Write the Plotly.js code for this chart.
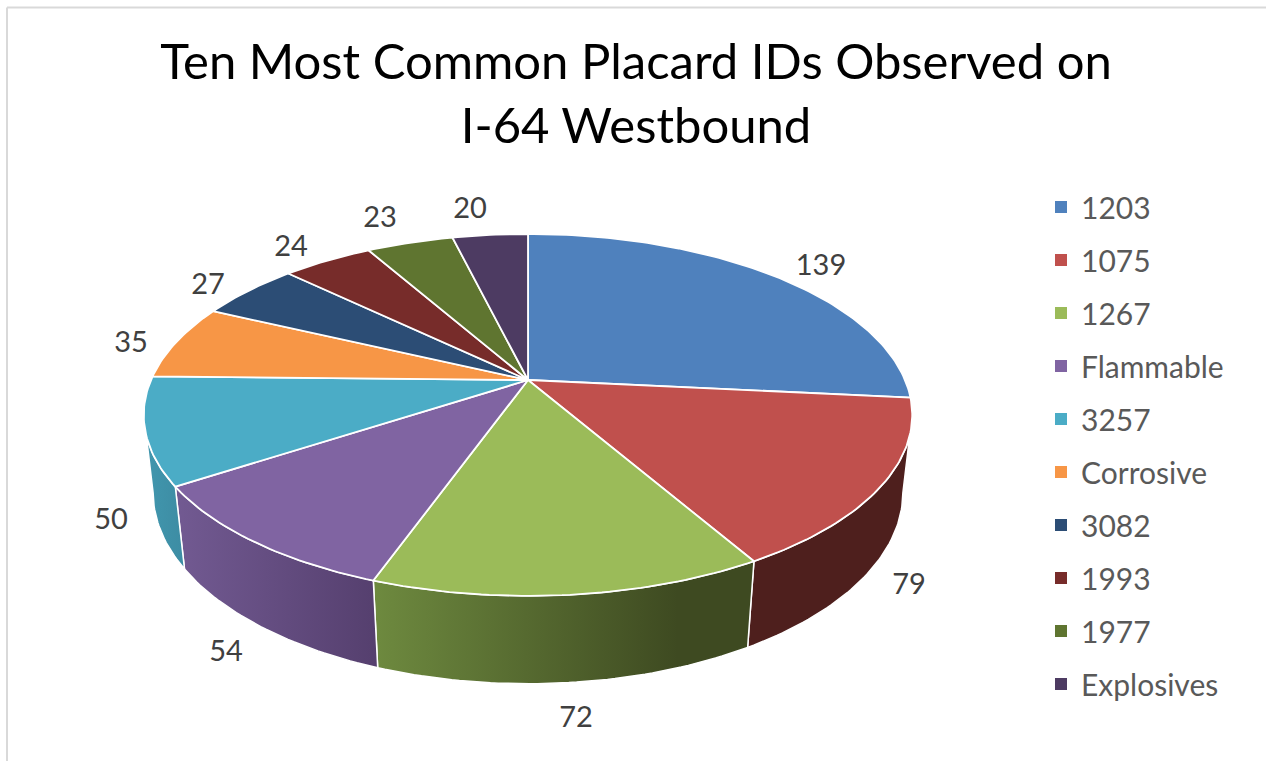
<!DOCTYPE html>
<html>
<head>
<meta charset="utf-8">
<script src="https://cdn.plot.ly/plotly-3.0.1.min.js"></script>
<style>html,body{margin:0;padding:0;background:#fff}#chart{width:1266px;height:761px}</style>
</head>
<body>
<div id="chart"></div>
<script>
// ---- data ----
const categories = ['1203','1075','1267','Flammable','3257','Corrosive','3082','1993','1977','Explosives'];
const values = [139,79,72,54,50,35,27,24,23,20];

// ---- styles ----
const topColors = ['#4F81BD','#C0504D','#9BBB59','#8064A2','#4BACC6','#F79646','#2C4D75','#772C2A','#5F7530','#4D3B62'];
const sideScales = {
  1:[[0,'#4E1F1D'],[1,'#4E1F1D']],
  2:[[0,'#6E8A3F'],[0.8,'#3E4A21'],[1,'#3E4A21']],
  3:[[0,'#725A92'],[1,'#553F6E']],
  4:[[0,'#4197AE'],[1,'#3D8CA3']]
};
const labelX = [821,909,576,226,111,131,208,291,380,470];
const labelY = [268,587,720,654,522,345,287,249,220,211];

// ---- perspective projection of the disc onto the page ----
const cam = {cx:528, cy:380, A:377, B:174.2, k:0.193, m:0.024, n:78.2};
const wallFrom = 101, wallTo = 259; // outline tangents of the wall
function project(deg, r, h){
  const t = deg*Math.PI/180, u = r*Math.sin(t), v = -r*Math.cos(t);
  const w = 1 - cam.k*v + cam.m*h;
  return [cam.cx + cam.A*u/w, cam.cy + (cam.B*v + cam.n*h)/w];
}
const total = values.reduce((a,b)=>a+b,0);
let running = 0;
const spans = values.map(v=>{const a=running/total*360; running+=v; return [a, running/total*360];});

function arc(a,b,h){
  const n = Math.max(2, Math.ceil(Math.abs(b-a)));
  const pts = [];
  for(let i=0;i<=n;i++) pts.push(project(a+(b-a)*i/n,1,h));
  return pts;
}

const traces = [];
// side walls of the front slices
spans.forEach((s,i)=>{
  if(!sideScales[i]) return;
  const a = Math.max(s[0],wallFrom), b = Math.min(s[1],wallTo);
  const pts = arc(a,b,0).concat(arc(b,a,1));
  pts.push(pts[0]);
  traces.push({
    type:'scatter', mode:'lines', x:pts.map(p=>p[0]), y:pts.map(p=>p[1]),
    fill:'toself', showlegend:false, hoverinfo:'skip',
    line:{color:'#FFFFFF',width:1.5},
    fillgradient:{type:'horizontal',colorscale:sideScales[i]}
  });
});
// top faces
spans.forEach((s,i)=>{
  const pts = [project(0,0,0)].concat(arc(s[0],s[1],0));
  pts.push(pts[0]);
  traces.push({
    type:'scatter', mode:'lines', x:pts.map(p=>p[0]), y:pts.map(p=>p[1]),
    fill:'toself', fillcolor:topColors[i], showlegend:false,
    name:categories[i], text:String(values[i]), hoverinfo:'name+text',
    line:{color:'#FFFFFF',width:1.8}
  });
});
// legend entries
categories.forEach((c,i)=>{
  traces.push({
    type:'scatter', mode:'markers', x:[null], y:[null], name:c, legendgroup:c,
    marker:{symbol:'square',size:12,color:topColors[i]}
  });
});
// value labels
traces.push({
  type:'scatter', mode:'text', x:labelX, y:labelY, text:values.map(String),
  textposition:'middle center', showlegend:false, hoverinfo:'skip',
  textfont:{family:'Lato, sans-serif',size:29,color:'#404040'}
});

const layout = {
  width:1266, height:761,
  margin:{l:0,r:0,t:0,b:0},
  paper_bgcolor:'#FFFFFF', plot_bgcolor:'#FFFFFF',
  xaxis:{range:[0,1266],visible:false,fixedrange:true},
  yaxis:{range:[761,0],visible:false,fixedrange:true},
  title:{
    text:'Ten Most Common Placard IDs Observed on<br>I-64 Westbound',
    font:{family:'Lato, sans-serif',size:49,color:'#000000'},
    x:636/1266, xanchor:'center', y:1-79/761, yanchor:'top'
  },
  legend:{
    x:1041/1266, xanchor:'left', y:1-181/761, yanchor:'top',
    traceorder:'grouped', tracegroupgap:11, itemwidth:30,
    bgcolor:'rgba(0,0,0,0)', borderwidth:0,
    font:{family:'Lato, sans-serif',size:30,color:'#595959'}
  },
  shapes:[
    {type:'line',xref:'x',yref:'y',x0:7,x1:7,y0:7.5,y1:761,line:{color:'#D9D9D9',width:2}},
    {type:'line',xref:'x',yref:'y',x0:7,x1:1266,y0:7.5,y1:7.5,line:{color:'#D9D9D9',width:2}}
  ],
  showlegend:true
};
Plotly.newPlot('chart',traces,layout,{displayModeBar:false,responsive:false});
</script>
</body>
</html>
